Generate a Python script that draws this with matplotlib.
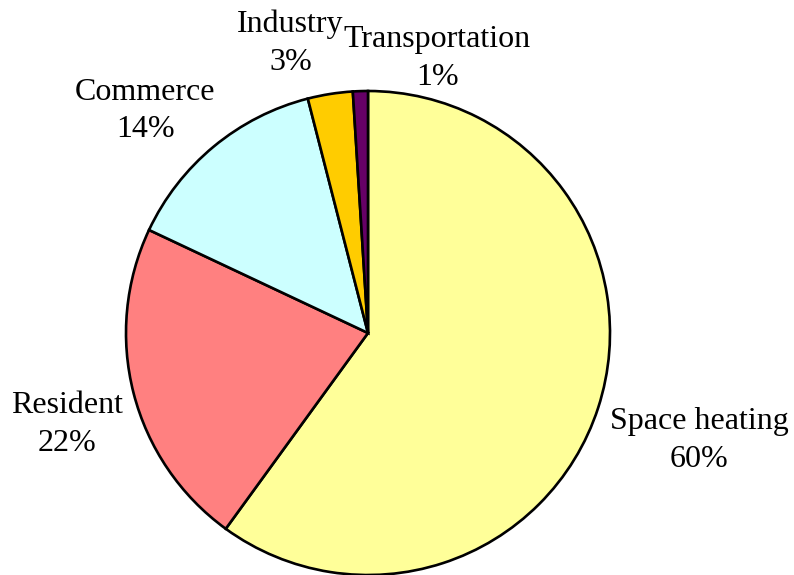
import numpy as np
import matplotlib
matplotlib.use("Agg")
import matplotlib.pyplot as plt

categories = ["Space heating", "Resident", "Commerce", "Industry", "Transportation"]
values = [60, 22, 14, 3, 1]
colors = ["#FFFF99", "#FF8080", "#CCFFFF", "#FFCC00", "#660066"]

W, H = 794, 575
fig = plt.figure(figsize=(W / 100, H / 100), dpi=100)
ax = fig.add_axes([0, 0, 1, 1])

cx, cy, r = 368, 242, 242
wedges, _ = ax.pie(values, colors=colors, startangle=90, counterclock=False,
                   center=(cx, cy), radius=r, frame=True,
                   wedgeprops=dict(edgecolor="black", linewidth=1.9))
ax.set_xlim(0, W)
ax.set_ylim(0, H)
ax.set_aspect("equal")
ax.axis("off")

# label placement: (distance factor, angle nudge in degrees)
label_pos = [(1.44, 0), (1.30, 2.5), (1.30, 5.5), (1.24, 6), (1.17, -16)]
total = sum(values)
for w, name, v, (d, da) in zip(wedges, categories, values, label_pos):
    mid = np.deg2rad((w.theta1 + w.theta2) / 2 + da)
    x = cx + d * r * np.cos(mid)
    y = cy + d * r * np.sin(mid)
    ax.text(x, y, f"{name}\n{round(100 * v / total)}%", ha="center", va="center",
            fontsize=23, family="Liberation Serif", linespacing=1.4)

fig.savefig("out.png", dpi=100)
